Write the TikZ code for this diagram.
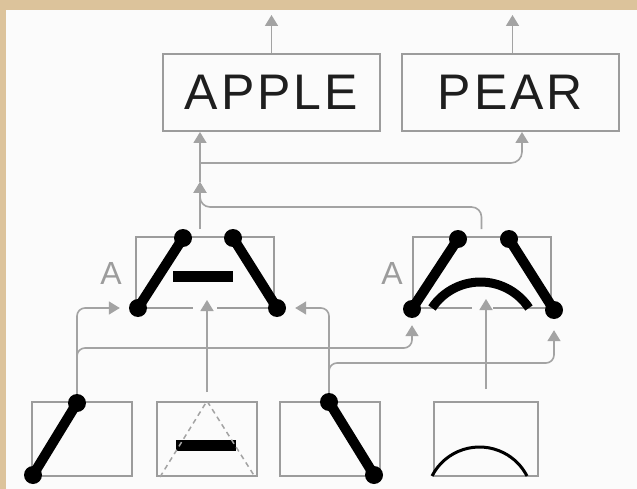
\documentclass[tikz,border=0pt]{standalone}
\usepackage{fontspec}
\setmainfont{Liberation Sans}
\newfontfamily\wordfont[LetterSpace=6]{Liberation Sans}
\usetikzlibrary{positioning,arrows.meta}
\definecolor{parchment}{HTML}{DCC39B}
\definecolor{paper}{HTML}{FBFBFB}
\definecolor{wire}{HTML}{A3A3A3}
\definecolor{frame}{HTML}{9C9C9C}
\definecolor{ink}{HTML}{1E1E1E}
\tikzset{
  wordbox/.style={rectangle, draw=frame, line width=2pt, fill=paper, text=ink,
                  minimum width=217pt, minimum height=77pt, inner sep=0pt,
                  font=\wordfont\fontsize{50}{50}\selectfont},
  featbox/.style={rectangle, draw=frame, line width=2pt, minimum width=138pt,
                  minimum height=71pt, inner sep=0pt},
  partbox/.style={rectangle, draw=frame, line width=2pt, minimum width=100pt,
                  minimum height=74pt, inner sep=0pt},
  knob/.style={circle, fill=black, minimum size=18pt, inner sep=0pt},
  limb/.style={line width=10pt, black},
  letter/.style={text=frame, inner sep=0pt, font=\fontsize{32}{32}\selectfont},
  link/.style={draw=wire, line width=1.6pt},
  feed/.style={link, -{Triangle[width=13pt,length=11pt]}},
}

\begin{document}
\begin{tikzpicture}[x=1pt, y=-1pt]
\useasboundingbox (0,0) rectangle (637,489);
\fill[parchment] (0,0) rectangle (637,489);
\fill[paper] (6,10) rectangle (637,489);

% words
\node[wordbox] (apple) at (271.5,92.5) {APPLE};
\node[wordbox, right=20pt of apple] (pear) {PEAR};

% the two A templates
\node[featbox] (lefta) at (205,272.5) {};
\node[featbox] (righta) at (481.5,272.5) {};
\node[letter] (tagl) at (111,273) {A};
\node[letter] (tagr) at (392,273) {A};

% parts
\node[partbox] (slash) at (82,439) {};
\node[partbox, right=23pt of slash] (barpart) {};
\node[partbox, right=21pt of barpart] (bslash) {};
\node[partbox, minimum width=104pt, right=52pt of bslash] (arch) {};

% openings for the upward feeds
\fill[paper] ([xshift=-12pt,yshift=3pt]lefta.south) rectangle ([xshift=12pt,yshift=-3pt]lefta.south);
\fill[paper] ([xshift=-10pt,yshift=3pt]righta.south) rectangle ([xshift=11pt,yshift=-3pt]righta.south);

\coordinate (top) at (0,15);
\coordinate (fork) at (200,163);
\coordinate (hub) at (200,182);
\coordinate (merge) at (200,207);
\coordinate (busa) at (0,348);
\coordinate (busb) at (0,363);

% knobs
\node[knob] (la1) at (138,308) {};
\node[knob] (la2) at (183,238) {};
\node[knob] (la3) at (233,238) {};
\node[knob] (la4) at (277,308) {};
\node[knob] (ra1) at (412,309) {};
\node[knob] (ra2) at (458,239) {};
\node[knob] (ra3) at (509,239) {};
\node[knob] (ra4) at (554,310) {};
\node[knob] (s1) at (33,475) {};
\node[knob] (s2) at (77,403) {};
\node[knob] (b1) at (329,402) {};
\node[knob] (b2) at (374,475) {};

% upward flow
\draw[feed] (apple.north) -- (apple.north |- top);
\draw[feed] ([xshift=2pt]pear.north) -- ([xshift=2pt]pear.north |- top);
\draw[feed] (hub) -- (hub |- apple.south);
\draw[feed, rounded corners=11pt] (fork) -| ([xshift=11.5pt]pear.south);
\draw[feed, shorten <=7pt] (hub |- lefta.north) -- (hub);
\draw[feed, rounded corners=10pt, shorten <=7pt] (righta.north) |- (merge) -- (hub);

% parts into templates
\draw[feed, rounded corners=8pt, shorten >=9pt] (s2.north) |- (la1.west);
\draw[feed, rounded corners=8pt, shorten >=7pt] (s2.north) |- (ra1 |- busa) -- (ra1.south);
\draw[feed, rounded corners=8pt, shorten >=9pt] (b1.north) |- (la4.east);
\draw[feed, rounded corners=8pt, shorten >=11pt] (b1.north) |- (ra4 |- busb) -- (ra4.south);
\draw[feed, shorten <=9pt] (barpart.north) -- ([yshift=9pt]barpart.north |- lefta.south);
\draw[feed, shorten <=12pt] (arch.north) -- ([yshift=10pt]arch.north |- righta.south);

% strokes
\foreach \p/\q in {la1/la2, la3/la4, ra1/ra2, ra3/ra4, s1/s2, b1/b2}
  \draw[limb] (\p.center) -- (\q.center);
\fill (173,271) rectangle (233,282);
\fill (176,440) rectangle (236,451);
\draw[line width=9pt] (432,308) arc[start angle=146.4, end angle=33.6, radius=58.2pt];
\draw[line width=3pt] (432,476) arc[start angle=152.8, end angle=27.2, radius=53.4pt];
\draw[wire, line width=1.5pt, dash pattern=on 5pt off 4pt]
  ([xshift=4pt]barpart.south west) -- (barpart.north) -- ([xshift=-3pt]barpart.south east);
\end{tikzpicture}
\end{document}
